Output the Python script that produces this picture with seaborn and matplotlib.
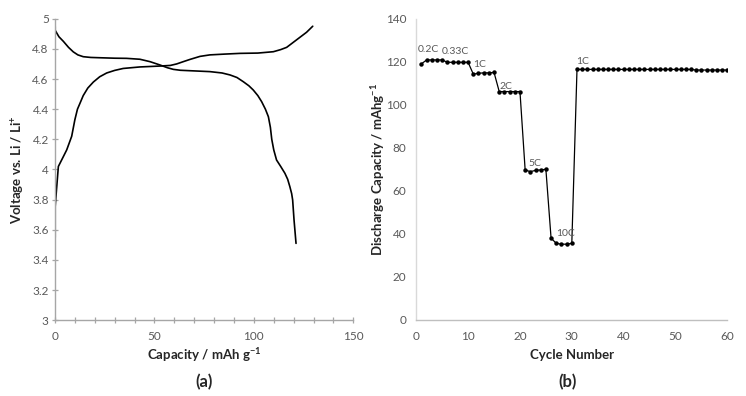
import numpy as np
import pandas as pd
import seaborn as sns
import matplotlib.pyplot as plt
from matplotlib.ticker import FuncFormatter, MultipleLocator

# (a) charge / discharge profile
charge_cap = [0, 0, 1.7, 4.0, 5.9, 8.4, 10.0, 11.3, 12.6, 14.2, 16.5, 19.3, 22.5, 26.0,
              30.0, 34.3, 42.7, 52.8, 58.0, 61.2, 64.5, 67.9, 72.9, 77.9, 85.0, 93.0,
              102.0, 109.8, 113.5, 116.5, 119.0, 121.5, 126.5, 129.6]
charge_v = [3.55, 3.93, 4.02, 4.08, 4.13, 4.22, 4.33, 4.40, 4.44, 4.49, 4.54, 4.58, 4.615, 4.64,
            4.657, 4.67, 4.68, 4.686, 4.69, 4.70, 4.715, 4.73, 4.75, 4.76, 4.765, 4.77,
            4.772, 4.781, 4.795, 4.81, 4.835, 4.86, 4.91, 4.95]

discharge_cap = [0, 0, 2.0, 4.2, 6.8, 9.2, 11.5, 14.2, 18.0, 22.6, 30.0, 36.0, 42.7, 47.8,
                 52.8, 56.5, 59.5, 63.0, 67.9, 77.9, 84.0, 88.0, 91.5, 94.7, 97.5, 99.7,
                 102.0, 103.9, 105.8, 107.3, 108.3, 109.0, 110.0, 111.4, 113.5, 115.6,
                 117.0, 118.1, 119.0, 119.5, 120.2, 121.2]
discharge_v = [4.95, 4.90, 4.88, 4.85, 4.81, 4.78, 4.76, 4.748, 4.743, 4.741, 4.738, 4.737,
               4.731, 4.715, 4.693, 4.675, 4.664, 4.658, 4.655, 4.649, 4.64, 4.627, 4.61,
               4.582, 4.555, 4.527, 4.49, 4.45, 4.40, 4.35, 4.28, 4.20, 4.13, 4.063, 4.02,
               3.975, 3.935, 3.886, 3.84, 3.798, 3.665, 3.51]

# (b) rate capability
cycles = list(range(1, 61))
capacity = [119.0, 120.8, 120.8, 120.8, 120.8, 119.7, 119.7, 119.7, 119.7, 119.7,
            114.2, 114.6, 114.8, 114.8, 115.0, 106.1, 106.1, 106.1, 106.1, 106.1,
            69.7, 68.9, 69.5, 69.7, 70.0, 38.0, 35.6, 35.2, 35.2, 35.6,
            116.4, 116.4, 116.4, 116.4, 116.4, 116.4, 116.4, 116.4, 116.4, 116.4,
            116.4, 116.4, 116.4, 116.4, 116.4, 116.4, 116.4, 116.4, 116.4, 116.4,
            116.4, 116.4, 116.4, 116.1, 116.1, 116.1, 116.1, 116.1, 116.1, 116.1]
rate_labels = ["0.2C", "0.33C", "1C", "2C", "5C", "10C", "1C"]
rate_label_x = [0.2, 5.0, 11.0, 16.0, 21.7, 27.0, 30.8]
rate_label_y = [125.5, 124.5, 118.5, 108.5, 72.5, 40.0, 120.0]

sns.set_theme(style="white")
plt.rcParams["font.family"] = ["Lato", "DejaVu Sans"]
plt.rcParams["mathtext.fontset"] = "custom"
plt.rcParams["mathtext.rm"] = "Lato"
plt.rcParams["mathtext.bf"] = "Lato:bold"

tick_col = "#595959"
label_col = "#262626"

fig = plt.figure(figsize=(7.46, 3.96), dpi=100)
ax1 = fig.add_axes([0.0737, 0.1912, 0.3999, 0.7616])
ax2 = fig.add_axes([0.558, 0.192, 0.417, 0.761])

charge = pd.DataFrame({"cap": charge_cap, "v": charge_v})
discharge = pd.DataFrame({"cap": discharge_cap, "v": discharge_v})
sns.lineplot(data=charge, x="cap", y="v", sort=False, color="black", lw=1.2, ax=ax1)
sns.lineplot(data=discharge, x="cap", y="v", sort=False, color="black", lw=1.2, ax=ax1)

ax1.set_xlim(0, 150)
ax1.set_ylim(3, 5)
ax1.xaxis.set_major_locator(MultipleLocator(50))
ax1.xaxis.set_minor_locator(MultipleLocator(10))
ax1.yaxis.set_major_locator(MultipleLocator(0.2))
ax1.yaxis.set_major_formatter(FuncFormatter(lambda v, p: "%g" % round(v, 1)))
ax1.tick_params(axis="both", which="both", direction="inout", colors="#a6a6a6",
                labelcolor=tick_col, labelsize=8.5, width=0.9)
ax1.tick_params(axis="x", which="both", length=5, bottom=True, pad=5)
ax1.tick_params(axis="y", which="major", length=5, left=True, pad=2)
ax1.set_xlabel("Capacity / mAh g$^{\\mathbf{-1}}$", fontsize=9.5, fontweight="bold",
               color=label_col)
ax1.set_ylabel("Voltage vs. Li / Li$^{\\mathbf{+}}$", fontsize=9.5, fontweight="bold",
               color=label_col)
ax1.xaxis.set_label_coords(0.5, -0.115)
ax1.xaxis.label.set_va("center")
ax1.yaxis.set_label_coords(-0.123, 0.5)
ax1.yaxis.label.set_va("center")

rate = pd.DataFrame({"cycle": cycles, "capacity": capacity})
sns.lineplot(data=rate, x="cycle", y="capacity", color="black", lw=0.9,
             marker="o", markersize=3.2, markeredgewidth=0, ax=ax2)
for txt, tx, ty in zip(rate_labels, rate_label_x, rate_label_y):
    ax2.text(tx, ty, txt, fontsize=7.5, color=tick_col, ha="left", va="center")

ax2.set_xlim(0, 60)
ax2.set_ylim(0, 140)
ax2.xaxis.set_major_locator(MultipleLocator(10))
ax2.yaxis.set_major_locator(MultipleLocator(20))
ax2.tick_params(axis="both", length=0, labelcolor=tick_col, labelsize=8.5)
ax2.tick_params(axis="x", pad=8)
ax2.tick_params(axis="y", pad=7)
ax2.set_xlabel("Cycle Number", fontsize=9.5, fontweight="bold", color=label_col)
ax2.set_ylabel("Discharge Capacity / mAhg$^{\\mathbf{-1}}$", fontsize=9.5,
               fontweight="bold", color=label_col)
ax2.xaxis.set_label_coords(0.5, -0.115)
ax2.xaxis.label.set_va("center")
ax2.yaxis.set_label_coords(-0.123, 0.5)
ax2.yaxis.label.set_va("center")

for ax, spine_l, spine_b in [(ax1, "#a6a6a6", "#a6a6a6"), (ax2, "#d9d9d9", "#bfbfbf")]:
    for s in ["top", "right"]:
        ax.spines[s].set_visible(False)
    ax.spines["left"].set_color(spine_l)
    ax.spines["bottom"].set_color(spine_b)
    ax.spines["left"].set_linewidth(1.0)
    ax.spines["bottom"].set_linewidth(1.0)

fig.text(0.2735, 0.036, "(a)", fontsize=12, fontweight="bold", color=label_col,
         ha="center", va="center")
fig.text(0.7605, 0.036, "(b)", fontsize=12, fontweight="bold", color=label_col,
         ha="center", va="center")

fig.savefig("out.png", dpi=100)
